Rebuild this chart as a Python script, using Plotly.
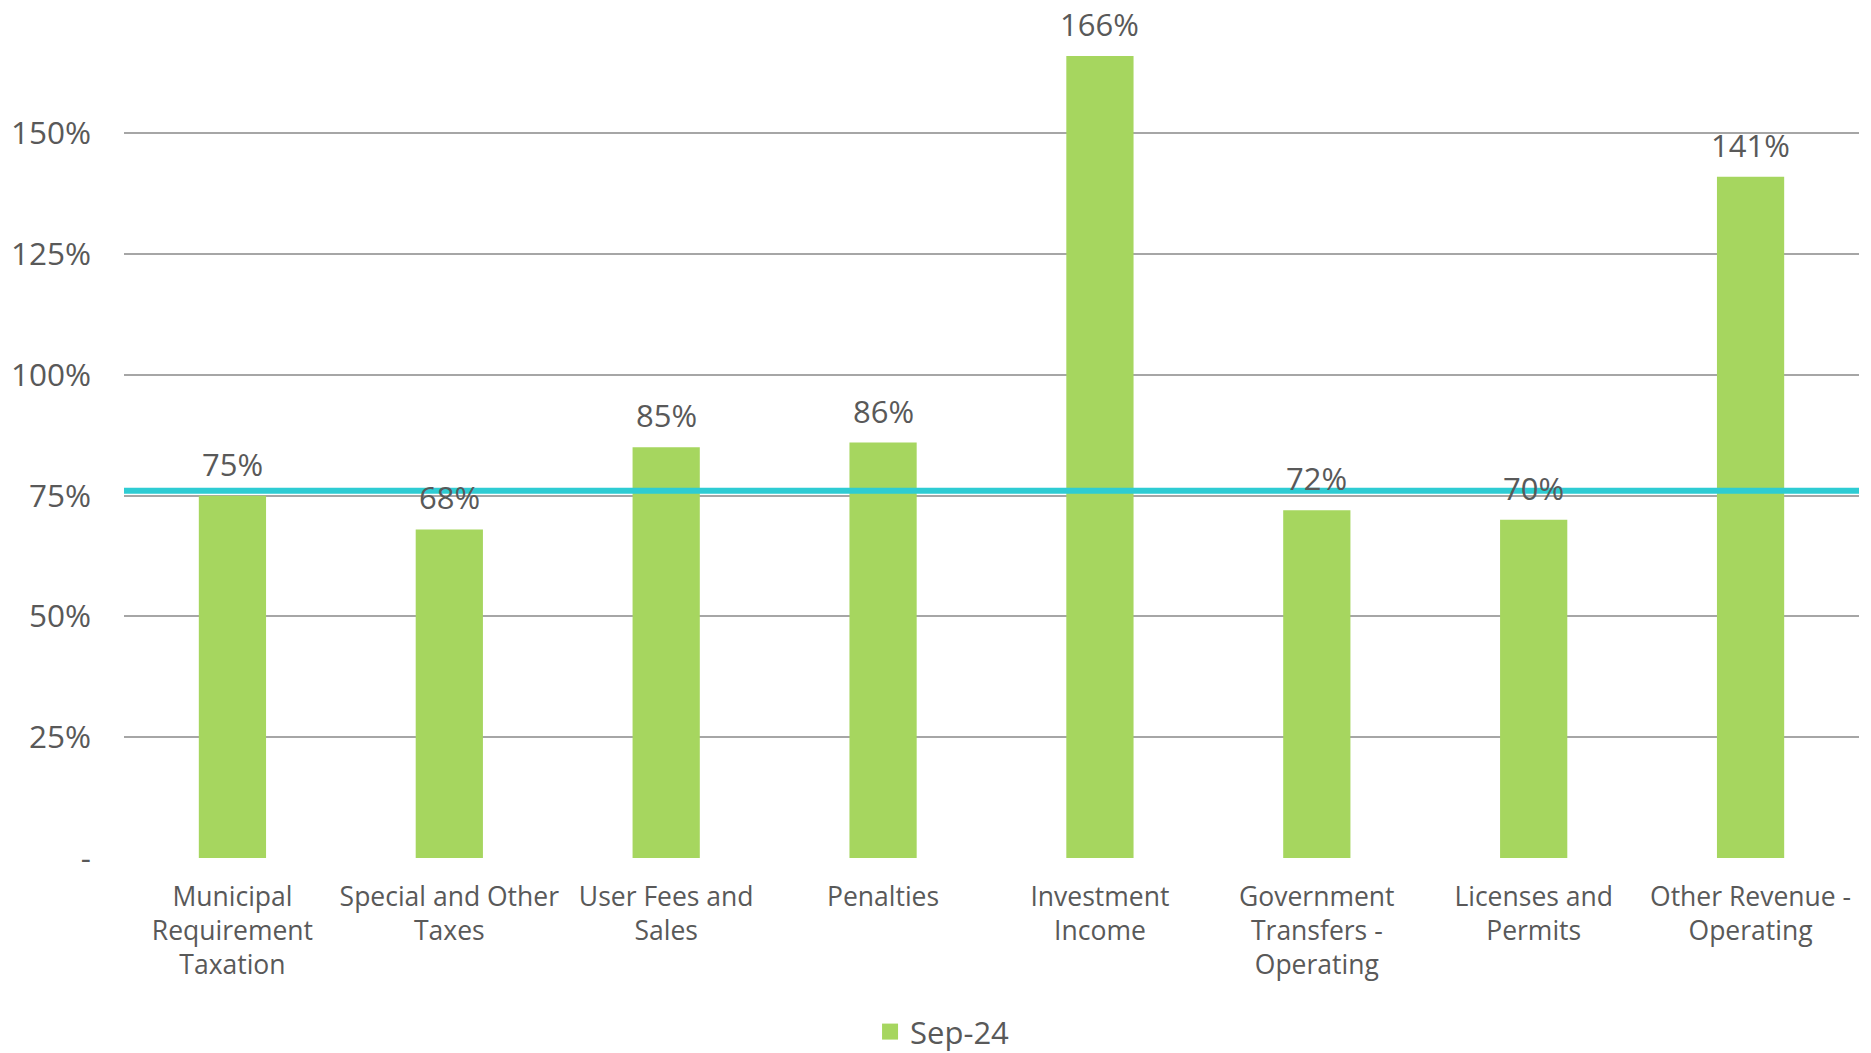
import plotly.graph_objects as go

categories = ["Municipal<br>Requirement<br>Taxation", "Special and Other<br>Taxes", "User Fees and<br>Sales",
              "Penalties", "Investment<br>Income", "Government<br>Transfers -<br>Operating",
              "Licenses and<br>Permits", "Other Revenue -<br>Operating"]
values = [0.75, 0.68, 0.85, 0.86, 1.66, 0.72, 0.70, 1.41]
labels = ["75%", "68%", "85%", "86%", "166%", "72%", "70%", "141%"]
series_name = "Sep-24"
target = 0.76
tick_vals = [0, 0.25, 0.5, 0.75, 1.0, 1.25, 1.5]
tick_text = ["-", "25%", "50%", "75%", "100%", "125%", "150%"]

FONT = "Open Sans"
TXT = "#595959"
GREEN = "#A6D65F"
CYAN = "#2ECCD3"

fig = go.Figure()
fig.add_trace(go.Bar(x=categories, y=values, name=series_name, marker=dict(color=GREEN, line=dict(width=0)),
                     showlegend=False))
fig.add_trace(go.Scatter(x=[None], y=[None], mode="markers", name=series_name,
                         marker=dict(symbol="square", size=20, color=GREEN), showlegend=True))
fig.add_trace(go.Scatter(x=[0, 1], y=[target, target], mode="lines", xaxis="x2",
                         line=dict(color=CYAN, width=6), showlegend=False, hoverinfo="skip"))

for c, v, t in zip(categories, values, labels):
    fig.add_annotation(x=c, y=v, text=t, showarrow=False, yanchor="middle", yshift=32,
                       font=dict(family=FONT, size=31, color=TXT))

fig.update_layout(
    width=1871, height=1053,
    margin=dict(l=124, r=12, t=27, b=195, autoexpand=False),
    paper_bgcolor="white", plot_bgcolor="white",
    bargap=0.69,
    font=dict(family=FONT, size=29, color=TXT),
    xaxis=dict(type="category", showgrid=False, showline=False, zeroline=False, ticks="",
               automargin=False,
               ticklabelstandoff=20, tickfont=dict(family=FONT, size=26.5, color=TXT)),
    xaxis2=dict(overlaying="x", range=[0, 1], visible=False),
    yaxis=dict(range=[0, 1.72], tickvals=tick_vals, ticktext=tick_text, showgrid=True,
               automargin=False,
               gridcolor="#A6A6A6", gridwidth=2, zeroline=False, showline=False,
               ticklabelstandoff=32, tickfont=dict(family=FONT, size=31.5, color=TXT)),
    legend=dict(orientation="h", x=0.43, xanchor="left", yref="container", y=0.02, yanchor="middle",
                itemsizing="trace",
                font=dict(family=FONT, size=31, color=TXT)),
)

fig.write_html("out.html")
